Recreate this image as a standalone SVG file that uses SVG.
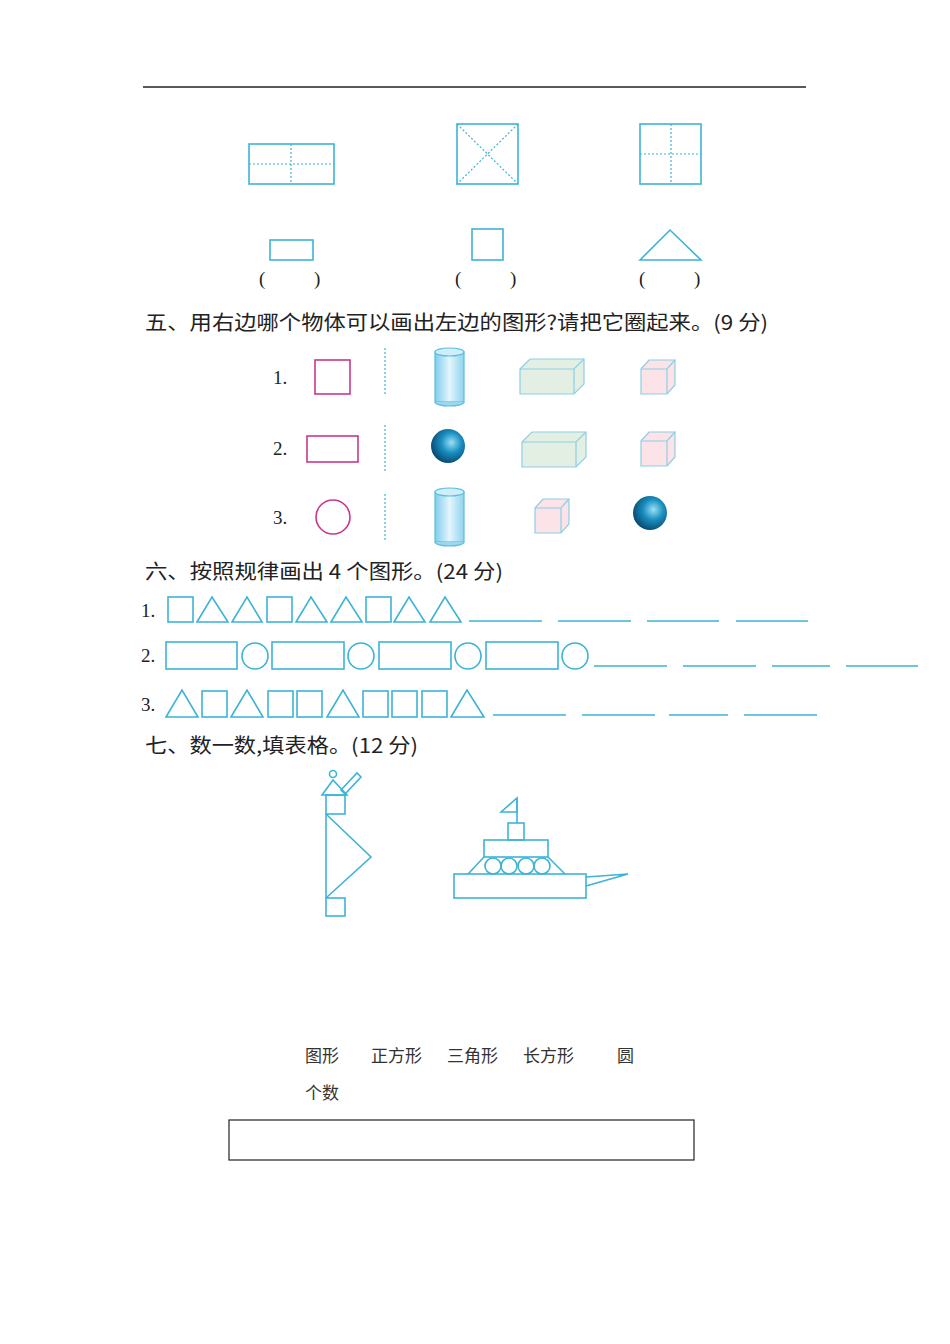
<svg xmlns="http://www.w3.org/2000/svg" width="950" height="1344" viewBox="0 0 950 1344">
<style>
.b{fill:none;stroke:#3db3d6;stroke-width:1.6}
.d{fill:none;stroke:#3db3d6;stroke-width:1.2;stroke-dasharray:2 2}
.m{fill:none;stroke:#c8398a;stroke-width:1.6}
.t{font-family:"Noto Sans CJK SC","DejaVu Sans",sans-serif;font-size:20px;fill:#222}
.n{font-family:"Liberation Serif",serif;font-size:19px;fill:#222}
.c{font-family:"Noto Sans CJK SC",sans-serif;font-size:17px;fill:#333}
.u{stroke:#3db3d6;stroke-width:1.3}
</style>
<defs>
<linearGradient id="cy" x1="0" x2="1"><stop offset="0" stop-color="#7ecdee"/><stop offset="0.5" stop-color="#e4f5fc"/><stop offset="1" stop-color="#8fd3ef"/></linearGradient>
<radialGradient id="sp" cx="0.6" cy="0.4" r="0.6"><stop offset="0" stop-color="#9be0f8"/><stop offset="0.5" stop-color="#1a8fc0"/><stop offset="1" stop-color="#0a4f78"/></radialGradient>
<g id="cyl"><rect x="0" y="4" width="29" height="50" fill="url(#cy)" stroke="#5bbde0" stroke-width="1.2"/><ellipse cx="14.5" cy="4" rx="14.5" ry="4" fill="#cfeefa" stroke="#5bbde0" stroke-width="1.2"/><path d="M0,54 A14.5,4 0 0 0 29,54" fill="#9bd8f0" stroke="#5bbde0" stroke-width="1.2"/></g>
<g id="box"><path d="M0,10 L10,0 H64 V25 L54,35 H0 Z" fill="#e2efe2" stroke="#8ccfe6" stroke-width="1.2"/><path d="M0,10 H54 L64,0 M54,10 V35" fill="none" stroke="#8ccfe6" stroke-width="1.2"/></g>
<g id="cube"><path d="M0,9 L8,0 H34 V25 L26,34 H0 Z" fill="#fbe3e8" stroke="#8ccfe6" stroke-width="1.2"/><path d="M0,9 H26 L34,0 M26,9 V34" fill="none" stroke="#8ccfe6" stroke-width="1.2"/></g>
</defs>
<line x1="143" y1="87" x2="806" y2="87" stroke="#222" stroke-width="1.3"/>
<g id="top">
<rect class="b" x="249" y="144" width="85" height="40"/><line class="d" x1="249" y1="164" x2="334" y2="164"/><line class="d" x1="291" y1="144" x2="291" y2="184"/>
<rect class="b" x="457" y="124" width="61" height="60"/><line class="d" x1="457" y1="124" x2="518" y2="184"/><line class="d" x1="518" y1="124" x2="457" y2="184"/>
<rect class="b" x="640" y="124" width="61" height="60"/><line class="d" x1="640" y1="154" x2="701" y2="154"/><line class="d" x1="671" y1="124" x2="671" y2="184"/>
<rect class="b" x="270" y="240" width="43" height="20"/>
<rect class="b" x="472" y="229" width="31" height="31"/>
<polygon class="b" points="640,260 670,230 701,260"/>
<text class="n" x="259" y="285">(</text><text class="n" x="314" y="285">)</text>
<text class="n" x="455" y="285">(</text><text class="n" x="510" y="285">)</text>
<text class="n" x="639" y="285">(</text><text class="n" x="694" y="285">)</text>
</g>
<text class="t" x="145" y="330" textLength="623" lengthAdjust="spacingAndGlyphs">五、用右边哪个物体可以画出左边的图形?请把它圈起来。(9 分)</text>
<g id="s5">
<text class="n" x="273" y="384">1.</text><text class="n" x="273" y="455">2.</text><text class="n" x="273" y="524">3.</text>
<rect class="m" x="315" y="360" width="35" height="34"/>
<rect class="m" x="307" y="436" width="51" height="26"/>
<circle class="m" cx="333" cy="517" r="17"/>
<line class="d" x1="385" y1="348" x2="385" y2="396"/><line class="d" x1="385" y1="425" x2="385" y2="472"/><line class="d" x1="385" y1="494" x2="385" y2="541"/>
<use href="#cyl" x="435" y="348"/><use href="#cyl" x="435" y="488"/>
<circle cx="448" cy="446" r="17" fill="url(#sp)"/><circle cx="650" cy="513" r="17" fill="url(#sp)"/>
<use href="#box" x="520" y="359"/><use href="#box" x="522" y="432"/>
<use href="#cube" x="641" y="360"/><use href="#cube" x="641" y="432"/><use href="#cube" x="535" y="499"/>
</g>
<text class="t" x="145" y="579" textLength="358" lengthAdjust="spacingAndGlyphs">六、按照规律画出 4 个图形。(24 分)</text>
<g id="s6">
<text class="n" x="141" y="617">1.</text><text class="n" x="141" y="662">2.</text><text class="n" x="141" y="711">3.</text>
<rect class="b" x="168" y="597" width="25" height="25"/><polygon class="b" points="197,622 212,597 228,622"/><polygon class="b" points="232,622 247,597 262,622"/>
<rect class="b" x="267" y="597" width="25" height="25"/><polygon class="b" points="296,622 311,597 327,622"/><polygon class="b" points="331,622 346,597 362,622"/>
<rect class="b" x="366" y="597" width="25" height="25"/><polygon class="b" points="394,622 409,597 425,622"/><polygon class="b" points="430,622 445,597 461,622"/>
<line class="u" x1="469" y1="621" x2="542" y2="621"/><line class="u" x1="558" y1="621" x2="631" y2="621"/><line class="u" x1="647" y1="621" x2="719" y2="621"/><line class="u" x1="736" y1="621" x2="808" y2="621"/>
<rect class="b" x="166" y="642" width="71" height="27"/><circle class="b" cx="255" cy="656" r="13"/>
<rect class="b" x="272" y="642" width="72" height="27"/><circle class="b" cx="361" cy="656" r="13"/>
<rect class="b" x="379" y="642" width="72" height="27"/><circle class="b" cx="468" cy="656" r="13"/>
<rect class="b" x="486" y="642" width="72" height="27"/><circle class="b" cx="575" cy="656" r="13"/>
<line class="u" x1="594" y1="666" x2="667" y2="666"/><line class="u" x1="683" y1="666" x2="756" y2="666"/><line class="u" x1="772" y1="666" x2="830" y2="666"/><line class="u" x1="846" y1="666" x2="918" y2="666"/>
<polygon class="b" points="166,717 182,690 198,717"/><rect class="b" x="202" y="691" width="25" height="26"/><polygon class="b" points="231,717 247,690 263,717"/>
<rect class="b" x="268" y="691" width="25" height="26"/><rect class="b" x="297" y="691" width="25" height="26"/><polygon class="b" points="327,717 343,690 359,717"/>
<rect class="b" x="363" y="691" width="25" height="26"/><rect class="b" x="392" y="691" width="25" height="26"/><rect class="b" x="422" y="691" width="25" height="26"/><polygon class="b" points="451,717 467,690 484,717"/>
<line class="u" x1="493" y1="715" x2="566" y2="715"/><line class="u" x1="582" y1="715" x2="655" y2="715"/><line class="u" x1="669" y1="715" x2="728" y2="715"/><line class="u" x1="744" y1="715" x2="817" y2="715"/>
</g>
<text class="t" x="145" y="753" textLength="273" lengthAdjust="spacingAndGlyphs">七、数一数,填表格。(12 分)</text>
<g id="lighthouse">
<circle class="b" cx="333" cy="774" r="3.5"/>
<polygon class="b" points="322,795 333,780 347,795"/>
<polygon class="b" points="341,790 357,773 361,777 345,794"/>
<rect class="b" x="326" y="795" width="19" height="19"/>
<polyline class="b" points="326,814 371,857 326,898"/>
<line class="b" x1="326" y1="814" x2="326" y2="898"/>
<rect class="b" x="326" y="898" width="19" height="18"/>
</g>
<g id="boat">
<polygon class="b" points="501,812 517,798 517,812"/><line class="b" x1="517" y1="798" x2="517" y2="823"/>
<rect class="b" x="508" y="823" width="16" height="17"/>
<rect class="b" x="484" y="840" width="64" height="17"/>
<line class="b" x1="468" y1="874" x2="484" y2="857"/><line class="b" x1="548" y1="857" x2="565" y2="874"/>
<circle class="b" cx="493" cy="866" r="8"/><circle class="b" cx="509" cy="866" r="8"/><circle class="b" cx="526" cy="866" r="8"/><circle class="b" cx="542" cy="866" r="8"/>
<rect class="b" x="454" y="874" width="132" height="24"/>
<polyline class="b" points="586,877 628,874 586,886"/>
</g>
<g id="table">
<text class="c" x="305" y="1062">图形</text><text class="c" x="371" y="1062">正方形</text><text class="c" x="447" y="1062">三角形</text><text class="c" x="523" y="1062">长方形</text><text class="c" x="617" y="1062">圆</text>
<text class="c" x="305" y="1099">个数</text>
<rect x="229" y="1120" width="465" height="40" fill="none" stroke="#222" stroke-width="1.2"/>
</g>
</svg>
